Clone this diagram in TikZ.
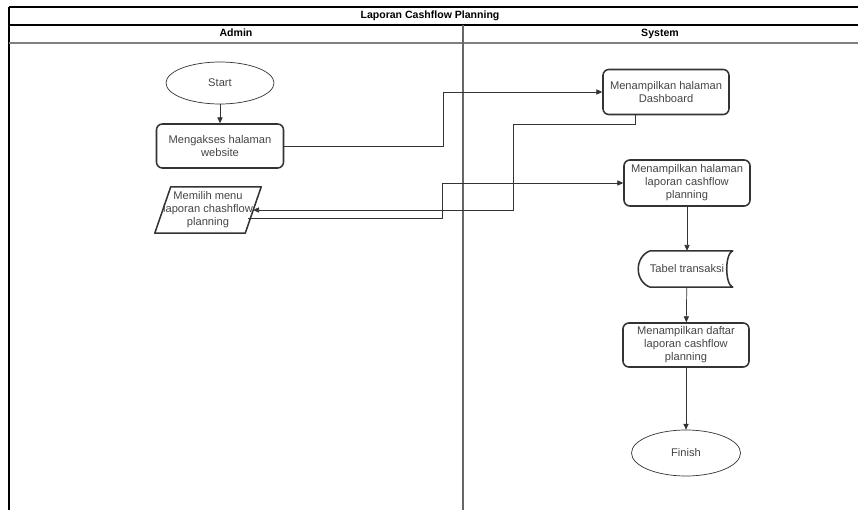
\documentclass[tikz,border=0pt]{standalone}
\usepackage{fontspec}
\setmainfont{Liberation Sans}
\usepackage{tikz}
\usetikzlibrary{shapes,arrows.meta,calc}
\definecolor{linegray}{HTML}{333333}
\definecolor{txtgray}{HTML}{444444}
\tikzset{
    proc/.style={draw=linegray, line width=1.3pt, rounded corners=5pt, minimum width=3.78cm, minimum height=1.35cm, align=center, text=txtgray, font=\fontsize{9.5}{11}\selectfont},
    term/.style={ellipse, draw=linegray, line width=0.6pt, align=center, text=txtgray, font=\fontsize{9.5}{11}\selectfont},
    boxline/.style={draw=linegray, line width=1.3pt, line join=round},
    flow/.style={draw=linegray, line width=0.6pt, -{Triangle[length=5pt,width=4.5pt]}},
    lane/.style={draw=black, line width=0.9pt},
    lanetext/.style={font=\fontsize{9}{10}\selectfont\bfseries, text height=7pt, text depth=2pt}
}
\begin{document}
\begin{tikzpicture}[x=0.03cm,y=-0.03cm]
            \useasboundingbox (0,0) rectangle (858,510);
            \draw[lane] (9,7) -- (858,7);
            \draw[lane] (9,7) -- (9,510);
            \draw[lane] (9,25) -- (858,25);
            \draw[lane,draw=gray] (9,43) -- (858,43);
            \draw[lane,draw=gray!80!black] (463,25) -- (463,510);
            \node[lanetext] (title) at (430,16) {Laporan Cashflow Planning};
            \node[lanetext] (admin) at (236,34) {Admin};
            \node[lanetext] (system) at (660,34) {System};

            \node[term, minimum width=3.24cm, minimum height=1.26cm] (start) at (220,83) {Start};
            \node[proc, minimum width=3.81cm, minimum height=1.32cm] (akses) at (220,146) {Mengakses halaman\\website};
            \node[align=center, text=txtgray, font=\fontsize{9.5}{11}\selectfont, inner sep=0pt, minimum width=2.7cm, minimum height=1.38cm] (memilih) at (208,210) {Memilih menu\\laporan chashflow\\planning};
            \draw[boxline] ($(memilih.south west)+(-8,0)$) -- ($(memilih.south east)+(-8,0)$) -- ($(memilih.north east)+(8,0)$) -- ($(memilih.north west)+(8,0)$) -- cycle;

            \node[proc] (dash) at (666,92) {Menampilkan halaman\\Dashboard};
            \node[proc, minimum height=1.38cm] (laporan) at (687,183) {Menampilkan halaman\\laporan cashflow\\planning};
            \node[align=center, text=txtgray, font=\fontsize{9.5}{11}\selectfont, minimum width=2.73cm, minimum height=1.08cm] (tabel) at (687,269) {Tabel transaksi};
            \draw[boxline] ($(tabel.north west)+(9,0)$) -- (tabel.north east) to[out=200,in=160,looseness=0.6] (tabel.south east) -- ($(tabel.south west)+(9,0)$) to[out=160,in=200,looseness=1.2] ($(tabel.north west)+(9,0)$);
            \node[proc, minimum height=1.32cm] (daftar) at (686,345) {Menampilkan daftar\\laporan cashflow\\planning};
            \node[term, minimum width=3.27cm, minimum height=1.38cm] (finish) at (686,453) {Finish};

            \draw[flow] (start) -- (akses);
            \draw[flow] (akses.east) -- ++(159,0) |- (dash.west);
            \draw[flow] ($(dash.south)+(-31,0)$) -- ++(0,9) -- ++(-122,0) |- (memilih.east);
            \draw[flow] ($(memilih.east)+(-5,8)$) -- ++(194,0) |- (laporan.west);
            \draw[flow] (laporan) -- (tabel);
            \draw[flow] (tabel) -- (daftar);
            \draw[flow] (daftar) -- (finish);
        \end{tikzpicture}
\end{document}
